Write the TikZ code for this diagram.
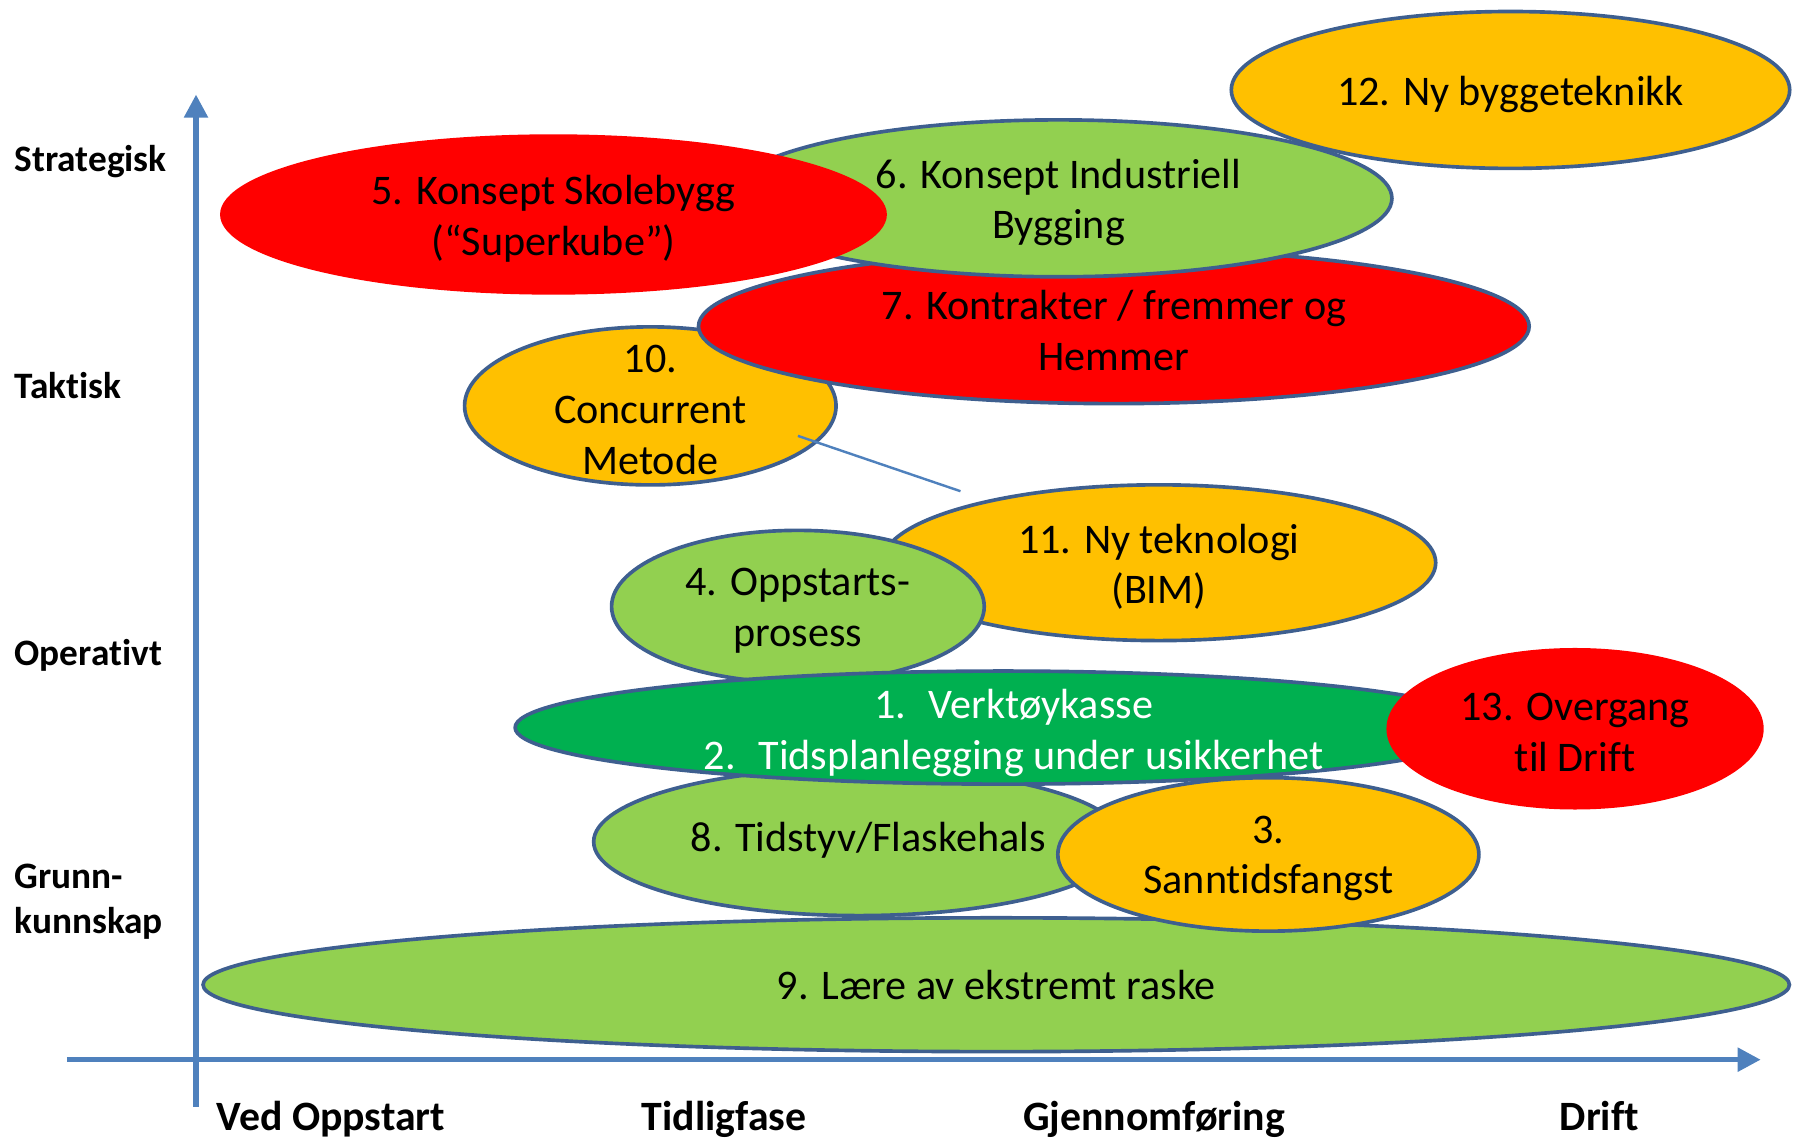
\documentclass[tikz,border=0pt]{standalone}
\usepackage{fontspec}
\setmainfont[Ligatures=NoCommon]{Carlito}
\usetikzlibrary{shapes.geometric,arrows.meta}
\definecolor{cred}{HTML}{FF0000}
\definecolor{clgreen}{HTML}{92D050}
\definecolor{corange}{HTML}{FFC000}
\definecolor{cdgreen}{HTML}{00B050}
\definecolor{coutline}{HTML}{3E5F8F}
\definecolor{caxis}{HTML}{4F81BD}
\tikzset{
  blob/.style={ellipse, inner sep=0pt, draw=coutline, line width=0.9pt},
  noborder/.style={ellipse, inner sep=0pt, draw=none},
  etext/.style={align=center, inner sep=0pt, font=\fontsize{10.4}{12.5}\selectfont},
  mline/.style={etext, yshift=-0.035cm},
  axlabel/.style={inner sep=0pt, font=\fontsize{9.2}{11}\selectfont\bfseries, align=left},
  xlabel/.style={inner sep=0pt, anchor=base, font=\fontsize{10.3}{12}\selectfont\bfseries},
  axisline/.style={draw=caxis, line width=1.3pt, -{Triangle[length=0.2cm,width=0.2cm]}},
}
\begin{document}
\begin{tikzpicture}[x=0.01cm,y=-0.01cm]
\useasboundingbox (0,0) rectangle (1568,990);
% axes
\coordinate (vbot) at (170,960);
\coordinate (vtop) at (170,82);
\coordinate (hleft) at (58,919);
\coordinate (hright) at (1527,919);
\draw[axisline] (vbot) -- (vtop);
\draw[axisline] (hleft) -- (hright);
% axis labels
\node[axlabel, anchor=west] (lstrat) at (12,140) {Strategisk};
\node[axlabel, anchor=west] (ltakt) at (12,334) {Taktisk};
\node[axlabel, anchor=west] (loper) at (12,568) {Operativt};
\node[axlabel, anchor=west] (lgrunn) at (12,782) {Grunn-\\kunnskap};
\node[xlabel] (xved) at (287,980) {Ved Oppstart};
\node[xlabel] (xtidl) at (628,980) {Tidligfase};
\node[xlabel] (xgjen) at (1001,980) {Gjennomføring};
\node[xlabel] (xdrift) at (1387,980) {Drift};
% ellipses (bottom layer first)
\node[blob, fill=clgreen, minimum width=13.75cm, minimum height=1.16cm] (e9) at (864,854) {};
\node[blob, fill=clgreen, minimum width=4.60cm, minimum height=1.28cm] (e8) at (745,730) {};
\node[blob, fill=corange, minimum width=4.80cm, minimum height=1.35cm] (e11) at (1005,488) {};
\node[blob, fill=clgreen, minimum width=3.23cm, minimum height=1.32cm] (e4) at (692,526) {};
\node[blob, fill=cdgreen, minimum width=8.46cm, minimum height=0.98cm] (e12b) at (870,631) {};
\node[blob, fill=corange, minimum width=3.65cm, minimum height=1.33cm] (e3) at (1100,741) {};
\node[noborder, fill=cred, minimum width=3.27cm, minimum height=1.40cm] (e13) at (1366,632) {};
\node[blob, fill=corange, minimum width=3.22cm, minimum height=1.37cm] (e10) at (564,352) {};
\node[blob, fill=cred, minimum width=7.20cm, minimum height=1.34cm] (e7) at (966,283) {};
\node[blob, fill=clgreen, minimum width=5.78cm, minimum height=1.36cm] (e6) at (918,172) {};
\node[noborder, fill=cred, minimum width=5.78cm, minimum height=1.39cm] (e5) at (480,186) {};
\node[blob, fill=corange, minimum width=4.84cm, minimum height=1.36cm] (e12) at (1310,78) {};
% texts
\node[mline] (t5) at (e5.center) {5. Konsept Skolebygg\\(“Superkube”)};
\node[mline] (t6) at (e6.center) {6. Konsept Industriell\\Bygging};
\node[mline] (t12) at (e12.center) {12. Ny byggeteknikk};
\node[mline] (t7) at (e7.center) {7. Kontrakter / fremmer og\\Hemmer};
\node[mline] (t10) at (e10.center) {10.\\Concurrent\\Metode};
\node[mline] (t11) at (e11.center) {11. Ny teknologi\\(BIM)};
\node[mline] (t4) at (e4.center) {4. Oppstarts-\\prosess};
\node[mline, text=white] (t12b) at (879,632) {\makebox[1.3em][l]{1.}Verktøykasse\\\makebox[1.3em][l]{2.}Tidsplanlegging under usikkerhet};
\node[mline] (t13) at (e13.center) {13. Overgang\\til Drift};
\node[etext] (t8) at (753,729) {8. Tidstyv/Flaskehals};
\node[mline] (t3) at (e3.center) {3.\\Sanntidsfangst};
\node[etext] (t9) at (e9.center) {9. Lære av ekstremt raske};
% thin connector
\coordinate (c10) at (692,378);
\coordinate (c11) at (833,426);
\draw[caxis, line width=0.6pt] (c10) -- (c11);
\end{tikzpicture}
\end{document}
